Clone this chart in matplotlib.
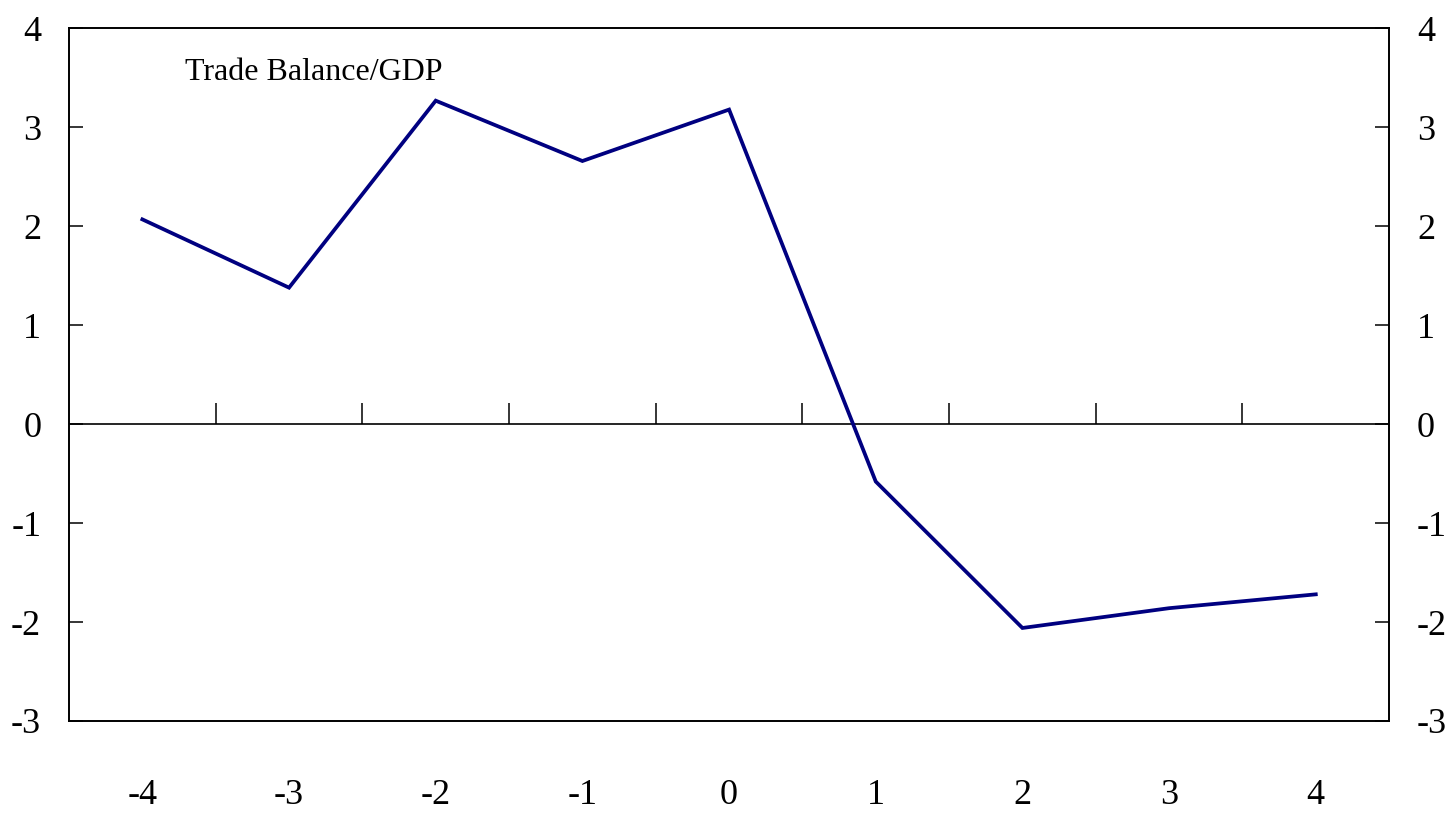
import numpy as np
import matplotlib
matplotlib.use('Agg')
import matplotlib.pyplot as plt

# data
periods = ['-4', '-3', '-2', '-1', '0', '1', '2', '3', '4']
trade_balance = [2.07, 1.38, 3.27, 2.66, 3.18, -0.58, -2.06, -1.86, -1.72]
y_ticks = [-3, -2, -1, 0, 1, 2, 3, 4]

plt.rcParams['font.family'] = ['Liberation Serif', 'DejaVu Serif']

fig = plt.figure(figsize=(14.47, 8.13), dpi=100)
ax = fig.add_axes([0.0477, 0.1132, 0.9123, 0.8518])

x = np.arange(len(periods))
ax.plot(x, trade_balance, color='#000080', lw=2.7, solid_joinstyle='miter', zorder=3)

# zero line with category-boundary ticks pointing up
ax.axhline(0, color='black', lw=1.2, zorder=2)
bounds = np.arange(len(periods) - 1) + 0.5
ax.plot(bounds, np.zeros_like(bounds), linestyle='none', marker=2,
        markersize=15, mew=1.1, color='black', zorder=2)

ax.set_xlim(-0.5, len(periods) - 0.5)
ax.set_ylim(-3, 4)
ax.set_xticks(x)
ax.set_xticklabels(periods)
ax.tick_params(axis='x', length=0, pad=42, labelsize=26)

ax.set_yticks(y_ticks)
ax.set_yticklabels([str(v) for v in y_ticks])
ax.tick_params(axis='y', direction='in', length=10, width=1.1, pad=20,
               labelsize=26, left=True, right=True, labelleft=True, labelright=True)

for s in ax.spines.values():
    s.set_linewidth(1.4)

ax.text(0.088, 0.936, 'Trade Balance/GDP', transform=ax.transAxes,
        fontsize=23, ha='left', va='center')

fig.savefig('out.png', dpi=100)
